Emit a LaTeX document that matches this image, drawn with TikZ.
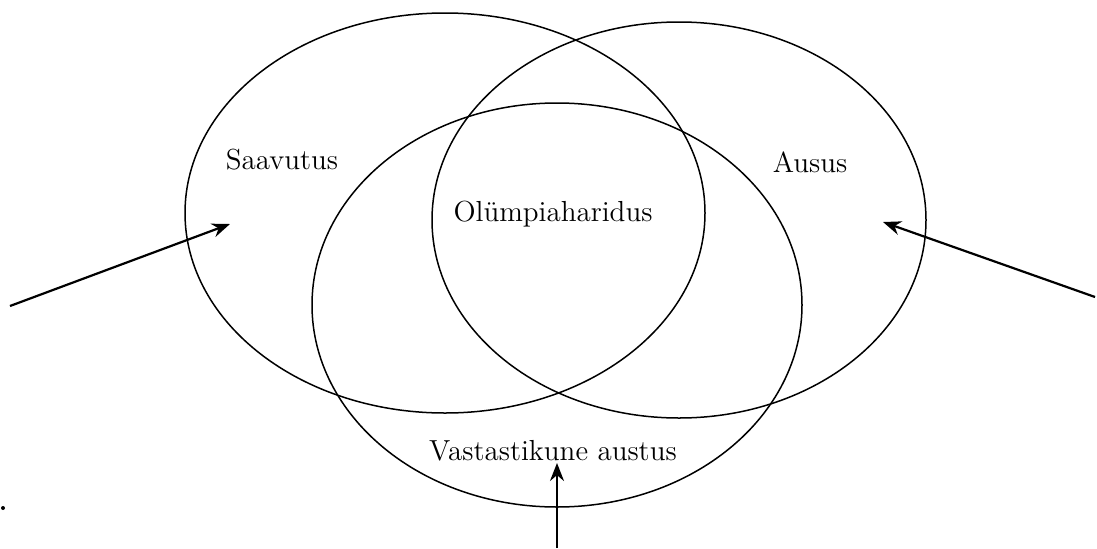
\documentclass[tikz,border=0pt]{standalone}
\usetikzlibrary{arrows.meta}
\begin{document}
\begin{tikzpicture}[x=0.5pt, y=0.5pt, >={Stealth[length=9pt,width=7pt]}]
    \useasboundingbox (0,0) rectangle (1097,548);
    \tikzset{ring/.style={line width=0.75pt}, pointer/.style={->, line width=1.1pt},
        label/.style={font=\fontsize{14.5}{17}\selectfont}}

    \draw[ring] (445,335) ellipse (130pt and 100pt);
    \draw[ring] (679,328) ellipse (123.5pt and 99pt);
    \draw[ring] (557,243) ellipse (122.5pt and 101pt);

    \node[label] (saav) at (282,388) {Saavutus};
    \node[label] (ausus) at (810,386) {Ausus};
    \node[label] (oly) at (553,334) {Olümpiaharidus};
    \node[label] (vast) at (553,97) {Vastastikune austus};

    \coordinate (lfrom) at (10,242);
    \coordinate (lto) at (230,324);
    \coordinate (rfrom) at (1095,251);
    \coordinate (rto) at (883,326);
    \coordinate (bfrom) at (557,0);
    \coordinate (bto) at (557,85);

    \draw[pointer] (lfrom) -- (lto);
    \draw[pointer] (rfrom) -- (rto);
    \draw[pointer] (bfrom) -- (bto);

    \fill (3,40) circle (1pt);
\end{tikzpicture}
\end{document}
